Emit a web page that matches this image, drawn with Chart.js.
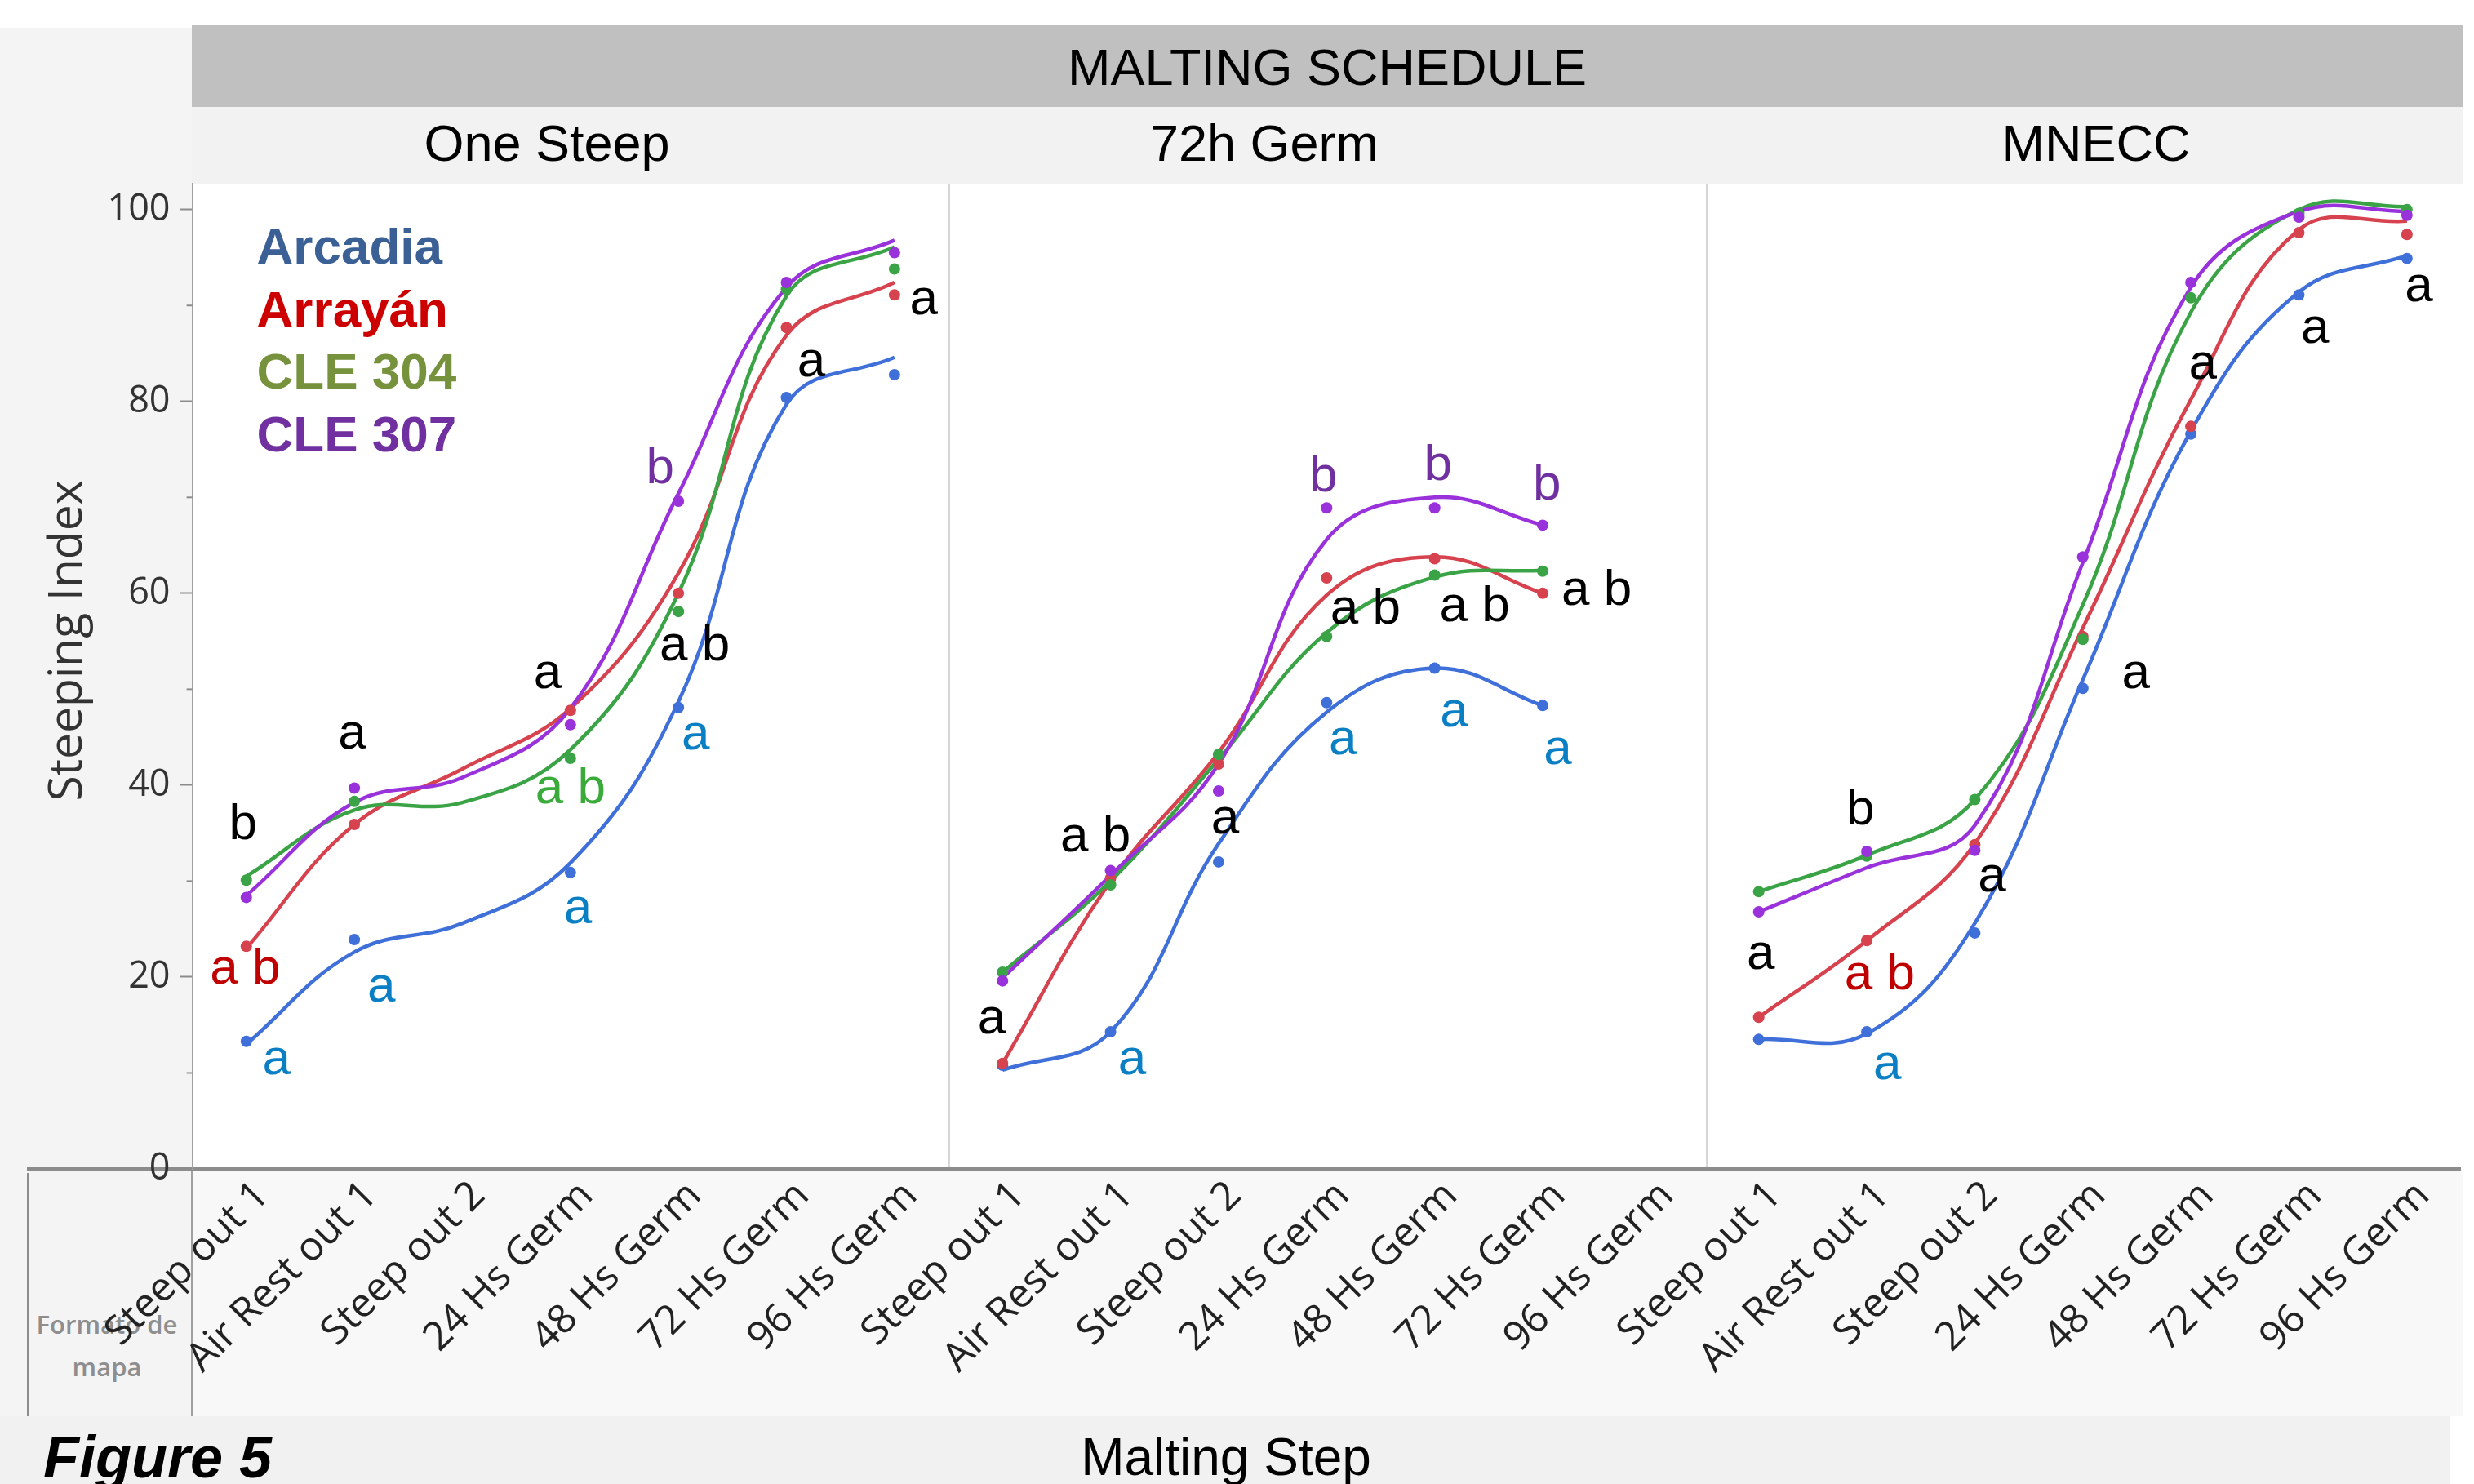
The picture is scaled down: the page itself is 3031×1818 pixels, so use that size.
<!DOCTYPE html>
<html>
<head>
<meta charset="utf-8">
<title>Steeping Index by malting step</title>
<script src="https://cdn.jsdelivr.net/npm/chart.js@4.4.1/dist/chart.umd.min.js"></script>
<style>
  body { margin: 0; background: #fff; }
  #page { position: relative; width: 3031px; height: 1818px; overflow: hidden; background: #fff;
          font-family: "Liberation Sans", Arial, sans-serif; color: #000; }
  .bx { position: absolute; }
  .txt { position: absolute; white-space: nowrap; line-height: 1; }
</style>
</head>
<body>
<div id="page">
  <!-- backgrounds -->
  <div class="bx" style="left:0;top:34px;width:236px;height:1701px;background:#f4f4f4"></div>
  <div class="bx" style="left:235px;top:31px;width:2783px;height:100px;background:#c0c0c0"></div>
  <div class="bx" style="left:235px;top:131px;width:2783px;height:94px;background:#f2f2f2"></div>
  <div class="bx" style="left:235px;top:1432px;width:2783px;height:303px;background:#f8f8f8"></div>
  <div class="bx" style="left:0;top:1735px;width:3002px;height:83px;background:#f1f1f1"></div>

  <!-- frame lines -->
  <div class="bx" style="left:1162px;top:225px;width:2px;height:1207px;background:#d6d6d6"></div>
  <div class="bx" style="left:2090px;top:225px;width:2px;height:1207px;background:#d6d6d6"></div>
  <div class="bx" style="left:234px;top:1432px;width:2px;height:303px;background:#a0a0a0"></div>
  <div class="bx" style="left:33px;top:1437px;width:2px;height:298px;background:#8c8c8c"></div>
  <div class="bx" style="left:33px;top:1430px;width:2982px;height:4px;background:#8c8c8c"></div>

  <!-- header texts -->
  <div class="txt" style="left:1626px;top:51px;font-size:63px;transform:translateX(-50%)">MALTING SCHEDULE</div>
  <div class="txt" style="left:670px;top:144px;font-size:63px;transform:translateX(-50%)">One Steep</div>
  <div class="txt" style="left:1549px;top:144px;font-size:63px;transform:translateX(-50%)">72h Germ</div>
  <div class="txt" style="left:2568px;top:144px;font-size:63px;transform:translateX(-50%)">MNECC</div>

  <!-- y title -->
  <div class="txt" style="left:78px;top:785px;font-family:'Open Sans',sans-serif;font-size:57px;color:#333;transform:translate(-50%,-50%) rotate(-90deg)">Steeping Index</div>

  <!-- corner box text -->
  <div class="txt" style="left:131px;top:1607px;font-family:'Open Sans',sans-serif;font-weight:600;font-size:31px;color:#8e8e8e;transform:translateX(-50%)">Formato de</div>
  <div class="txt" style="left:131px;top:1659px;font-family:'Open Sans',sans-serif;font-weight:600;font-size:31px;color:#8e8e8e;transform:translateX(-50%)">mapa</div>

  <!-- bottom texts -->
  <div class="txt" style="left:53px;top:1749px;font-size:72px;font-weight:bold;font-style:italic">Figure 5</div>
  <div class="txt" style="left:1502px;top:1753px;font-size:64px;transform:translateX(-50%)">Malting Step</div>

  <canvas id="myChart" width="3031" height="1818" style="position:absolute;left:0;top:0"></canvas>
</div>

<script>
// malting steps, repeated for each schedule panel
var steps = ['Steep out 1', 'Air Rest out 1', 'Steep out 2', '24 Hs Germ', '48 Hs Germ', '72 Hs Germ', '96 Hs Germ'];
var schedules = ['One Steep', '72h Germ', 'MNECC'];
var labels = steps.concat(steps, steps);

var varieties = ['Arcadia', 'Arrayán', 'CLE 304', 'CLE 307'];

// measured means (dots), 7 per panel: One Steep | 72h Germ | MNECC
var arcadia = [13.3, 23.9, null, 30.9, 48.1, 80.4, 82.8,   10.8, 14.3, 32.0, 48.6, 52.2, 48.3, null,   13.5, 14.3, 24.6, 50.1, 76.6, 91.1, 94.9];
var arrayan = [23.2, 35.9, null, 47.8, 60.0, 87.7, 91.1,   11.0, 30.3, 42.2, 61.6, 63.6, 60.0, null,   15.8, 23.8, 33.8, 55.5, 77.4, 97.6, 97.4];
var cle304  = [30.1, 38.3, null, 42.8, 58.1, 91.7, 93.8,   20.5, 29.6, 43.2, 55.5, 61.9, 62.3, null,   28.9, 32.6, 38.5, 55.2, 90.8, 99.6, 100.0];
var cle307  = [28.3, 39.7, null, 46.3, 69.6, 92.4, 95.5,   19.6, 31.1, 39.4, 68.9, 68.9, 67.1, null,   26.8, 33.1, 33.2, 63.8, 92.4, 99.2, 99.4];

// smoothed fit lines read at each step
var arcadiaFit = [13.0, 22.6, 25.6, 31.9, 48.7, 79.7, 84.6,   10.3, 14.3, 33.9, 47.6, 52.2, 48.3, null,   13.5, 14.1, 25.6, 51.0, 76.9, 91.4, 95.2];
var arrayanFit = [23.0, 35.9, 41.7, 48.0, 62.1, 86.9, 92.4,   11.0, 30.0, 43.4, 59.8, 63.8, 60.0, null,   15.8, 23.8, 33.9, 56.4, 80.2, 97.9, 98.8];
var cle304Fit  = [30.5, 37.4, 38.2, 43.7, 60.0, 91.0, 96.1,   20.5, 30.0, 42.7, 55.9, 61.7, 62.4, null,   28.9, 32.7, 38.5, 58.8, 89.3, 100.0, 100.3];
var cle307Fit  = [28.5, 38.2, 40.8, 48.0, 70.4, 91.9, 96.8,   19.9, 30.6, 42.2, 65.6, 70.0, 67.1, null,   26.8, 31.4, 35.8, 63.2, 91.9, 99.8, 99.8];

var yTicks = [0, 20, 40, 60, 80, 100];

// significance letters: text, colour, step position (0-20), value
var letters = [
  ['b',   '#000000', -0.03, 36.3], ['a b', '#c00000', -0.01, 21.2], ['a', '#0a7fc4', 0.28, 11.2],
  ['a',   '#000000', 0.98, 45.2],  ['a',   '#0a7fc4', 1.25, 18.8],
  ['a',   '#000000', 2.79, 51.5],  ['a b', '#3aab3a', 3.0, 40.0],   ['a', '#0a7fc4', 3.07, 27.0],
  ['b',   '#7030a0', 3.83, 73.4],  ['a b', '#000000', 4.15, 54.9],  ['a', '#0a7fc4', 4.16, 45.1],
  ['a',   '#000000', 5.23, 84.0],  ['a',   '#000000', 6.27, 90.5],
  ['a',   '#000000', 6.90, 15.5],  ['a',   '#0a7fc4', 8.20, 11.2],  ['a b', '#000000', 7.86, 35.0],
  ['a',   '#000000', 9.06, 36.3],
  ['b',   '#7030a0', 9.97, 72.5],  ['a b', '#000000', 10.36, 58.7], ['a', '#0a7fc4', 10.15, 44.6],
  ['b',   '#7030a0', 11.03, 73.7], ['a b', '#000000', 11.37, 59.0], ['a', '#0a7fc4', 11.18, 47.5],
  ['b',   '#7030a0', 12.04, 71.7], ['a b', '#000000', 12.5, 60.7],  ['a', '#0a7fc4', 12.14, 43.6],
  ['a',   '#000000', 14.02, 22.2], ['a',   '#0a7fc4', 15.19, 10.7], ['b', '#000000', 14.94, 37.8],
  ['a b', '#c00000', 15.12, 20.6], ['a',   '#000000', 16.16, 30.3],
  ['a',   '#000000', 17.49, 51.5], ['a',   '#000000', 18.11, 83.7],
  ['a',   '#000000', 19.15, 87.5], ['a',   '#000000', 20.11, 91.8]
];

var lineColors = ['#3f6fd8', '#d6434f', '#3aa346', '#9a32dc'];
var legendColors = ['#3a6096', '#cc0000', '#76923c', '#7030a0'];

var dots = [arcadia, arrayan, cle304, cle307];
var fits = [arcadiaFit, arrayanFit, cle304Fit, cle307Fit];

var datasets = [];
// dots first so they sit on top of the lines
for (var k = 3; k >= 0; k--) {
  datasets.push({
    label: varieties[k],
    data: dots[k],
    showLine: false,
    pointRadius: 7,
    pointBorderWidth: 0,
    pointBackgroundColor: lineColors[k],
    borderColor: lineColors[k]
  });
}
// one fit line per schedule panel so the curves break between panels
for (var k = 3; k >= 0; k--) {
  for (var p = 0; p < 3; p++) {
    datasets.push({
      label: varieties[k] + ' fit ' + schedules[p],
      data: fits[k].map(function (v, i) { return Math.floor(i / 7) === p ? v : null; }),
      borderColor: lineColors[k],
      borderWidth: 4.5,
      pointRadius: 0,
      tension: 0.4,
      spanGaps: false,
      fill: false
    });
  }
}

var overlay = {
  id: 'overlay',
  afterDraw: function (chart) {
    var ctx = chart.ctx, area = chart.chartArea, x = chart.scales.x, y = chart.scales.y;
    ctx.save();
    // short minor ticks
    ctx.strokeStyle = '#8c8c8c';
    ctx.lineWidth = 2;
    [10, 30, 50, 70, 90].forEach(function (v) {
      var py = y.getPixelForValue(v);
      ctx.beginPath();
      ctx.moveTo(area.left - 7, py);
      ctx.lineTo(area.left, py);
      ctx.stroke();
    });
    // letters
    ctx.font = '62px "Liberation Sans", Arial, sans-serif';
    ctx.textAlign = 'center';
    ctx.textBaseline = 'alphabetic';
    letters.forEach(function (l) {
      var lift = (l[0].indexOf('b') >= 0 ? 0.36 : 0.26) * 62;
      ctx.fillStyle = l[1];
      ctx.fillText(l[0], x.getPixelForValue(l[2]), y.getPixelForValue(l[3]) + lift);
    });
    // legend
    ctx.font = 'bold 62px "Liberation Sans", Arial, sans-serif';
    ctx.textAlign = 'left';
    varieties.forEach(function (name, i) {
      ctx.fillStyle = legendColors[i];
      ctx.fillText(name, area.left + 79, area.top + 98 + i * 76.7);
    });
    ctx.restore();
  }
};

var ctx = document.getElementById('myChart').getContext('2d');
var chart = new Chart(ctx, {
  type: 'line',
  data: { labels: labels, datasets: datasets },
  options: {
    responsive: false,
    animation: false,
    layout: { padding: { left: 0, top: 225, right: 16, bottom: 83 } },
    plugins: { legend: { display: false }, tooltip: { enabled: false } },
    scales: {
      x: {
        type: 'category',
        offset: true,
        grid: { display: false, drawTicks: false },
        border: { display: false },
        ticks: {
          autoSkip: false,
          minRotation: 45,
          maxRotation: 45,
          padding: 4,
          labelOffset: 20,
          color: '#222',
          font: { family: 'Open Sans', size: 49 }
        },
        afterFit: function (s) { s.height = 303; }
      },
      y: {
        min: 0,
        max: 102.7,
        afterBuildTicks: function (s) { s.ticks = yTicks.map(function (v) { return { value: v }; }); },
        grid: { drawOnChartArea: false, drawTicks: true, tickLength: 15, tickColor: '#8c8c8c', tickWidth: 2 },
        border: { display: true, color: '#a0a0a0', width: 2 },
        ticks: { padding: 12, color: '#333', font: { family: 'Open Sans', size: 45 } },
        afterFit: function (s) { s.width = 235.6; }
      }
    }
  },
  plugins: [overlay]
});
</script>
</body>
</html>
